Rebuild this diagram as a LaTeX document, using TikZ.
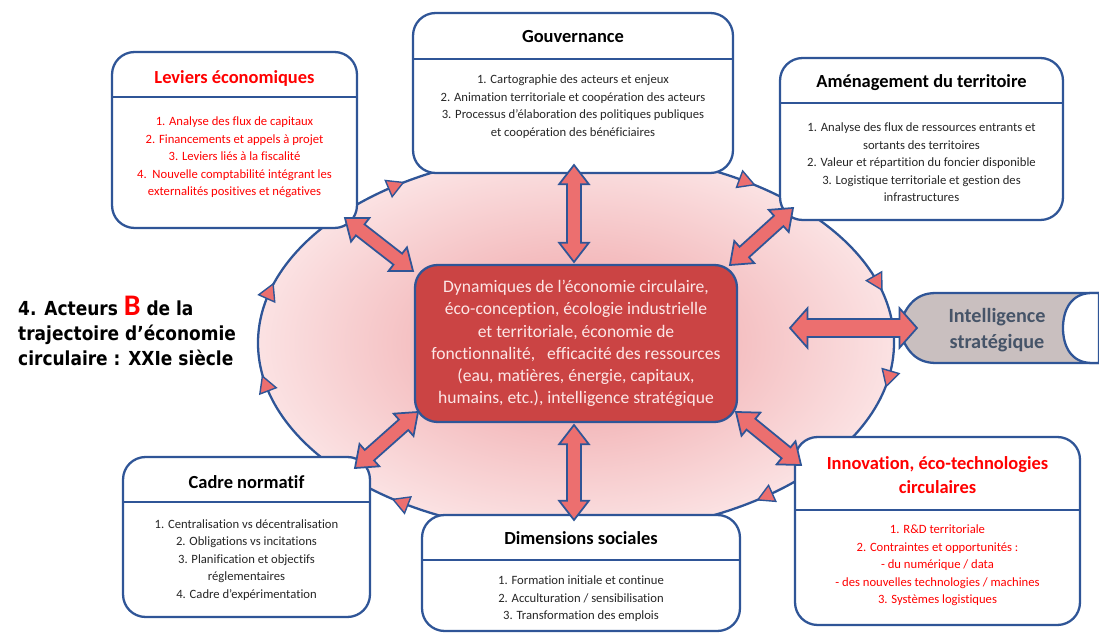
\documentclass[tikz,border=0pt]{standalone}
\usepackage{fontspec}
\setmainfont{Carlito}[Ligatures=NoCommon]
\newfontfamily\headfont{DejaVu Sans}[FakeStretch=0.88]
\usetikzlibrary{positioning,calc}

\definecolor{frameblue}{HTML}{2F5597}
\definecolor{leverred}{HTML}{FF0000}
\definecolor{corered}{HTML}{CB4444}
\definecolor{coretext}{HTML}{FCE6E6}
\definecolor{arrowpink}{HTML}{EC6F6F}
\definecolor{ringin}{HTML}{EE9EA1}
\definecolor{ringout}{HTML}{FBE2E3}
\definecolor{intelgray}{HTML}{C9BFBF}
\definecolor{inteltext}{HTML}{465468}
\definecolor{itemtext}{HTML}{262626}

\tikzset{
  panel/.style={draw=frameblue, line width=1.3pt, fill=white,
    rounded corners=0.45cm, inner sep=0pt, outer sep=0pt},
  panelrule/.style={draw=frameblue, line width=1.3pt},
  paneltitle/.style={font=\bfseries\fontsize{10.5}{13.6}\selectfont, align=center},
  panelbody/.style={font=\fontsize{7.2}{10}\selectfont, align=center, text=itemtext},
  core/.style={draw=frameblue, line width=1.3pt, fill=corered, text=coretext,
    rounded corners=0.45cm, inner sep=0pt, outer sep=0pt, align=center,
    font=\fontsize{10}{12.7}\selectfont},
  blockarrow/.style={draw=frameblue, line width=1pt, fill=arrowpink, line join=miter},
  flowtri/.style={draw=frameblue, line width=0.8pt, fill=arrowpink, line join=miter},
}

% double block arrow between two named coordinates
\def\arrhl{11pt}
\def\arrhw{8.5pt}
\def\arrsw{4pt}
\newcommand{\dblarrow}[2]{%
  \draw[blockarrow] (#1)
    -- ($($(#1)!\arrhl!(#2)$)!\arrhw!90:(#2)$)
    -- ($($(#1)!\arrhl!(#2)$)!\arrsw!90:(#2)$)
    -- ($($(#2)!\arrhl!(#1)$)!\arrsw!-90:(#1)$)
    -- ($($(#2)!\arrhl!(#1)$)!\arrhw!-90:(#1)$)
    -- (#2)
    -- ($($(#2)!\arrhl!(#1)$)!\arrhw!90:(#1)$)
    -- ($($(#2)!\arrhl!(#1)$)!\arrsw!90:(#1)$)
    -- ($($(#1)!\arrhl!(#2)$)!\arrsw!-90:(#2)$)
    -- ($($(#1)!\arrhl!(#2)$)!\arrhw!-90:(#2)$)
    -- cycle;}

% small arrow head sitting on the ring, at angle #1
\newcommand{\flowmark}[1]{%
  \pgfmathsetmacro\fmx{318*cos(#1)}%
  \pgfmathsetmacro\fmy{-191*sin(#1)}%
  \pgfmathsetmacro\fma{atan2(191*cos(#1),-318*sin(#1))}%
  \begin{scope}[shift={($(ringc)+(\fmx,\fmy)$)}, rotate=\fma]
    \draw[flowtri] (-6pt,0pt) -- (3pt,5pt) -- (3pt,-5pt) -- cycle;
  \end{scope}}

\begin{document}
\begin{tikzpicture}[x=0.02cm, y=-0.02cm]
\useasboundingbox (0,0) rectangle (1099,634);

% ring
\coordinate (ringc) at (576,343);
\fill[inner color=ringin, outer color=ringout] (ringc) ellipse [x radius=318, y radius=191];
\draw[frameblue, line width=1.3pt] (ringc) ellipse [x radius=318, y radius=191];
\foreach \t in {165,125,58,19,-10,-53,-123,-167}
  \flowmark{\t};

% title on the left
\node[font=\headfont\bfseries\fontsize{11}{14.2}\selectfont, align=left, anchor=west]
  (heading) at (12,331)
  {4. Acteurs {\normalfont\bfseries\color{leverred}\fontsize{17}{14}\selectfont B} de la\\
   trajectoire d’économie\\circulaire : XXIe siècle};

% panels
\node[panel, minimum width=4.9cm, minimum height=3.52cm] (lev) at (234.5,140) {};
\draw[panelrule] (lev.west |- 0,97) -- (lev.east |- 0,97);
\node[paneltitle, text=leverred] (levT) at (234.5,78) {Leviers économiques};
\node[panelbody, text=leverred] (levB) at (234.5,157.5)
  {1. Analyse des flux de capitaux\\2. Financements et appels à projet\\
   3. Leviers liés à la fiscalité\\4.\ \ Nouvelle comptabilité intégrant les\\
   externalités positives et négatives};

\node[panel, minimum width=6.4cm, minimum height=3.2cm] (gouv) at (573,93) {};
\draw[panelrule] (gouv.west |- 0,59) -- (gouv.east |- 0,59);
\node[paneltitle] (gouvT) at (573,37) {Gouvernance};
\node[panelbody] (gouvB) at (573,106.5)
  {1. Cartographie des acteurs et enjeux\\
   2. Animation territoriale et coopération des acteurs\\
   3. Processus d’élaboration des politiques publiques\\
   et coopération des bénéficiaires};

\node[panel, minimum width=5.66cm, minimum height=3.24cm] (amen) at (921.5,139) {};
\draw[panelrule] (amen.west |- 0,103) -- (amen.east |- 0,103);
\node[paneltitle] (amenT) at (921.5,83) {Aménagement du territoire};
\node[panelbody] (amenB) at (921.5,162.5)
  {1. Analyse des flux de ressources entrants et\\sortants des territoires\\
   2. Valeur et répartition du foncier disponible\\
   3. Logistique territoriale et gestion des\\infrastructures};

\node[panel, minimum width=4.94cm, minimum height=3.2cm] (cadre) at (246.5,537) {};
\draw[panelrule] (cadre.west |- 0,502) -- (cadre.east |- 0,502);
\node[paneltitle] (cadreT) at (246.5,482) {Cadre normatif};
\node[panelbody] (cadreB) at (246.5,560)
  {1. Centralisation vs décentralisation\\2. Obligations vs incitations\\
   3. Planification et objectifs\\réglementaires\\4. Cadre d’expérimentation};

\node[panel, minimum width=6.36cm, minimum height=2.32cm] (dims) at (581,573) {};
\draw[panelrule] (dims.west |- 0,560) -- (dims.east |- 0,560);
\node[paneltitle] (dimsT) at (581,538) {Dimensions sociales};
\node[panelbody] (dimsB) at (581,599)
  {1. Formation initiale et continue\\2. Acculturation / sensibilisation\\
   3. Transformation des emplois};

\node[panel, minimum width=5.7cm, minimum height=3.76cm] (innov) at (937.5,531) {};
\draw[panelrule] (innov.west |- 0,510) -- (innov.east |- 0,510);
\node[paneltitle, text=leverred] (innovT) at (937.5,475)
  {Innovation, éco-technologies\\circulaires};
\node[panelbody, text=leverred] (innovB) at (937.5,565.5)
  {1. R\&D territoriale\\2. Contraintes et opportunités :\\- du numérique / data\\
   - des nouvelles technologies / machines\\3. Systèmes logistiques};

% strategic intelligence tab
\coordinate (intelTip) at (898,328);
\draw[frameblue, line width=1.3pt, fill=intelgray] (intelTip)
  .. controls (905,309) and (913,293) .. (936,293) -- (1099,293)
  -- (1099,363) -- (936,363) .. controls (913,363) and (905,347) .. (intelTip) -- cycle;
\draw[frameblue, line width=1.3pt, fill=white] (1099,293) -- (1092,293)
  .. controls (1071,293) and (1063,310) .. (1063,328)
  .. controls (1063,346) and (1071,363) .. (1092,363) -- (1099,363) -- cycle;
\node[font=\bfseries\fontsize{11.5}{14.5}\selectfont, text=inteltext, align=center]
  (intel) at (997,330) {Intelligence\\stratégique};

% centre
\node[core, minimum width=6.44cm, minimum height=3.14cm] (centre) at (576,343.5)
  {Dynamiques de l’économie circulaire,\\éco-conception, écologie industrielle\\
   et territoriale, économie de\\fonctionnalité,\ \ \ efficacité des ressources\\
   (eau, matières, énergie, capitaux,\\humains, etc.), intelligence stratégique};

% arrow ends
\coordinate (gA) at ($(gouv.south)+(1,-8)$);
\coordinate (cA) at ($(centre.north)+(-2,-3)$);
\coordinate (cB) at ($(centre.south)+(-2,3)$);
\coordinate (dB) at ($(dims.north)+(-7,5)$);
\coordinate (lC) at ($(lev.south east)+(-12,-10)$);
\coordinate (cC) at ($(centre.north west)+(-2,6)$);
\coordinate (aD) at ($(amen.south west)+(13,-12)$);
\coordinate (cD) at ($(centre.north east)+(-7,0)$);
\coordinate (nE) at ($(cadre.north east)+(-15,11)$);
\coordinate (cE) at ($(centre.south west)+(3,-10)$);
\coordinate (cF) at ($(centre.south east)+(-1,-10)$);
\coordinate (iF) at ($(innov.north west)+(6,28)$);
\coordinate (cG) at ($(intelTip)+(-108,0)$);
\coordinate (tG) at ($(intelTip)+(19,0)$);

\dblarrow{gA}{cA}
\dblarrow{cB}{dB}
\dblarrow{lC}{cC}
\dblarrow{aD}{cD}
\dblarrow{nE}{cE}
\dblarrow{cF}{iF}
{\def\arrhw{11.3pt}\def\arrsw{5.1pt}\def\arrhl{10pt}
 \dblarrow{cG}{tG}}
\end{tikzpicture}
\end{document}
